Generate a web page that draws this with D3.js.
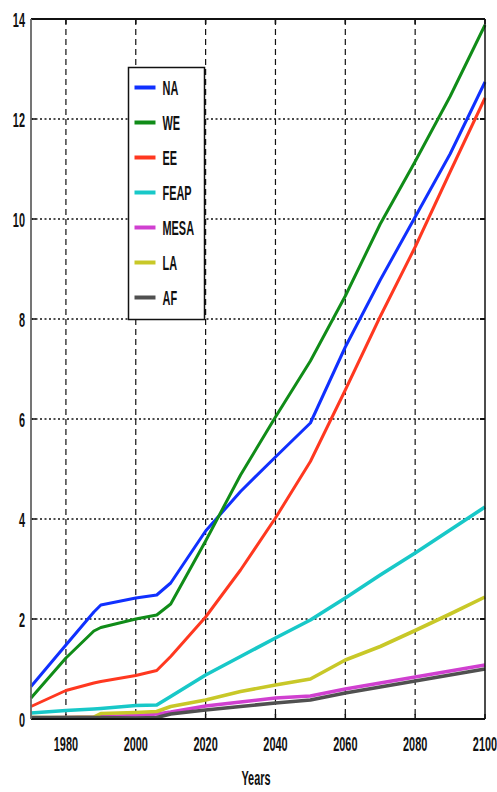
<!DOCTYPE html>
<html>
<head>
<meta charset="utf-8">
<script src="https://cdn.jsdelivr.net/npm/d3@7"></script>
<style>
  html, body { margin: 0; padding: 0; background: #fff; }
  svg text { font-family: "Liberation Sans", Arial, sans-serif; font-weight: bold; fill: #111; }
</style>
</head>
<body>
<div id="chart"></div>
<script>
// ---- Data ----
const years = [1970, 1980, 1988, 1990, 2000, 2006, 2010, 2020, 2030, 2040, 2050, 2060, 2070, 2080, 2090, 2100];
const regions = ["NA", "WE", "EE", "FEAP", "MESA", "LA", "AF"];
const NA   = [0.65, 1.48, 2.14, 2.28, 2.42, 2.48, 2.72, 3.76, 4.55, 5.24, 5.92, 7.44, 8.78, 10.04, 11.30, 12.74];
const WE   = [0.42, 1.22, 1.76, 1.83, 2.00, 2.08, 2.30, 3.56, 4.88, 6.04, 7.16, 8.46, 9.90, 11.15, 12.45, 13.88];
const EE   = [0.25, 0.57, 0.72, 0.75, 0.87, 0.97, 1.25, 2.04, 2.98, 4.02, 5.15, 6.58, 8.05, 9.44, 10.94, 12.42];
const FEAP = [0.12, 0.17, 0.20, 0.21, 0.27, 0.28, 0.45, 0.88, 1.25, 1.62, 1.98, 2.42, 2.88, 3.32, 3.78, 4.24];
const MESA = [0.02, 0.03, 0.04, 0.05, 0.07, 0.10, 0.14, 0.26, 0.34, 0.42, 0.46, 0.60, 0.72, 0.84, 0.96, 1.08];
const LA   = [0.03, 0.03, 0.04, 0.11, 0.13, 0.15, 0.25, 0.38, 0.55, 0.68, 0.80, 1.18, 1.45, 1.77, 2.10, 2.44];
const AF   = [0.03, 0.03, 0.03, 0.03, 0.02, 0.03, 0.10, 0.18, 0.25, 0.32, 0.38, 0.52, 0.64, 0.76, 0.88, 1.00];
const seriesValues = [NA, WE, EE, FEAP, MESA, LA, AF];
const colors = ["#1030ff", "#108c18", "#ff3820", "#18c8c8", "#d040d0", "#c8c828", "#505050"];
const xTicks = [1980, 2000, 2020, 2040, 2060, 2080, 2100];
const yTicks = [0, 2, 4, 6, 8, 10, 12, 14];

// ---- Layout ----
const W = 497, H = 792;
const margin = { top: 19, right: 12, bottom: 73, left: 31 };
const width = W - margin.left - margin.right;
const height = H - margin.top - margin.bottom;

const svg = d3.select("#chart").append("svg")
  .attr("width", W).attr("height", H);
const g = svg.append("g").attr("transform", `translate(${margin.left},${margin.top})`);

const x = d3.scaleLinear().domain([1970, 2100]).range([0, width]);
const y = d3.scaleLinear().domain([0, 14]).range([height, 0]);

// ---- Grid ----
g.selectAll("line.vgrid")
  .data(xTicks.filter(d => d < 2100))
  .join("line")
  .attr("class", "vgrid")
  .attr("x1", d => x(d)).attr("x2", d => x(d))
  .attr("y1", 0).attr("y2", height)
  .attr("stroke", "#111").attr("stroke-width", 1.2)
  .attr("stroke-dasharray", "6,4");

g.selectAll("line.hgrid")
  .data(yTicks.filter(d => d > 0 && d < 14))
  .join("line")
  .attr("class", "hgrid")
  .attr("x1", 0).attr("x2", width)
  .attr("y1", d => y(d)).attr("y2", d => y(d))
  .attr("stroke", "#111").attr("stroke-width", 1.6)
  .attr("stroke-dasharray", "2,2.5");

// ---- Inward ticks ----
const tick = 5;
yTicks.forEach(v => {
  g.append("line").attr("x1", 0).attr("x2", tick).attr("y1", y(v)).attr("y2", y(v))
    .attr("stroke", "#111").attr("stroke-width", 1.5);
  g.append("line").attr("x1", width - tick).attr("x2", width).attr("y1", y(v)).attr("y2", y(v))
    .attr("stroke", "#111").attr("stroke-width", 2);
});
xTicks.forEach(v => {
  g.append("line").attr("x1", x(v)).attr("x2", x(v)).attr("y1", height).attr("y2", height - tick)
    .attr("stroke", "#111").attr("stroke-width", 1.5);
  g.append("line").attr("x1", x(v)).attr("x2", x(v)).attr("y1", 0).attr("y2", tick)
    .attr("stroke", "#111").attr("stroke-width", 1.5);
});

// ---- Lines ----
const line = d3.line()
  .x((d, i) => x(years[i]))
  .y(d => y(d));

g.selectAll("path.series")
  .data(seriesValues)
  .join("path")
  .attr("class", "series")
  .attr("d", d => line(d))
  .attr("fill", "none")
  .attr("stroke", (d, i) => colors[i])
  .attr("stroke-width", (d, i) => i < 3 ? 3 : 3.6)
  .attr("stroke-linejoin", "round");

// ---- Frame ----
g.append("line").attr("x1", 0).attr("x2", width).attr("y1", 0).attr("y2", 0)
  .attr("stroke", "#111").attr("stroke-width", 2);
g.append("line").attr("x1", width).attr("x2", width).attr("y1", 0).attr("y2", height)
  .attr("stroke", "#111").attr("stroke-width", 1.5);
g.append("line").attr("x1", 0).attr("x2", width).attr("y1", height).attr("y2", height)
  .attr("stroke", "#111").attr("stroke-width", 2);
g.append("line").attr("x1", 0).attr("x2", 0).attr("y1", 0).attr("y2", height)
  .attr("stroke", "#666").attr("stroke-width", 1.8);

// ---- Tick labels (tall, condensed) ----
const sx = 0.52;
const fs = 21;
svg.selectAll("text.ylab")
  .data(yTicks)
  .join("text")
  .attr("class", "ylab")
  .attr("text-anchor", "end")
  .attr("dominant-baseline", "central")
  .attr("font-size", fs)
  .attr("transform", d => `translate(25,${margin.top + y(d) + 1}) scale(${sx},1)`)
  .text(d => d);

svg.selectAll("text.xlab")
  .data(xTicks)
  .join("text")
  .attr("class", "xlab")
  .attr("text-anchor", "middle")
  .attr("font-size", fs)
  .attr("transform", d => `translate(${margin.left + x(d)},751) scale(${sx},1)`)
  .text(d => d);

svg.append("text")
  .attr("text-anchor", "middle")
  .attr("font-size", fs)
  .attr("transform", `translate(256,785) scale(${sx},1)`)
  .text("Years");

// ---- Legend ----
const legend = svg.append("g").attr("transform", "translate(128.5,67.5)");
legend.append("rect")
  .attr("width", 76).attr("height", 252)
  .attr("fill", "#fff").attr("stroke", "#111").attr("stroke-width", 1.5);

regions.forEach((name, i) => {
  const ly = 20 + i * 35;
  legend.append("line")
    .attr("x1", 6).attr("x2", 27).attr("y1", ly).attr("y2", ly)
    .attr("stroke", colors[i]).attr("stroke-width", 4);
  legend.append("text")
    .attr("font-size", fs)
    .attr("dominant-baseline", "central")
    .attr("transform", `translate(34,${ly + 1}) scale(${sx},1)`)
    .text(name);
});
</script>
</body>
</html>
